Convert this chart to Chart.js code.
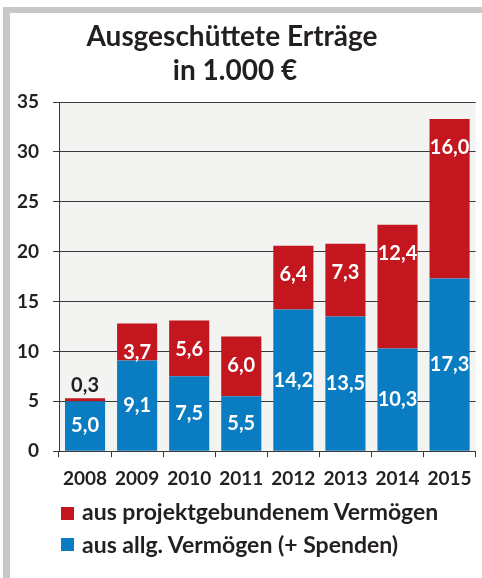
<!DOCTYPE html>
<html>
<head>
<meta charset="utf-8">
<script src="https://cdn.jsdelivr.net/npm/chart.js@4.4.1/dist/chart.umd.min.js"></script>
<style>
  body { margin: 0; background: #fff; }
  #wrap { position: relative; width: 482px; height: 578px; overflow: hidden; font-family: Lato, sans-serif; }
  #frameL { position: absolute; left: 3px; top: 7px; width: 7px; height: 571px; background: #c8c8c8; }
  #frameT { position: absolute; left: 3px; top: 7px; width: 479px; height: 6px; background: #c8c8c8; }
  canvas { position: absolute; left: 0; top: 0; }
  .box { position: absolute; left: 61px; width: 13px; height: 13px; }
  .txt { position: absolute; left: 82px; font: bold 23px Lato; line-height: 27px; color: #231f20; white-space: nowrap; }
</style>
</head>
<body>
<div id="wrap">
  <div id="frameL"></div>
  <div id="frameT"></div>
  <canvas id="barChart" width="482" height="578"></canvas>
  <div class="box" style="top:507px;background:#c3161f"></div>
  <div class="txt" style="top:498px">aus projektgebundenem Vermögen</div>
  <div class="box" style="top:538px;background:#0a7dc2"></div>
  <div class="txt" style="top:531px">aus allg. Vermögen (+ Spenden)</div>
</div>
<script>
var titleLines = ['Ausgeschüttete Erträge', 'in 1.000 €'];
var years = ['2008', '2009', '2010', '2011', '2012', '2013', '2014', '2015'];
var allgemein = [5.0, 9.1, 7.5, 5.5, 14.2, 13.5, 10.3, 17.3];
var projekt = [0.3, 3.7, 5.6, 6.0, 6.4, 7.3, 12.4, 16.0];
var seriesNames = ['aus allg. Vermögen (+ Spenden)', 'aus projektgebundenem Vermögen'];

var textColor = '#231f20';
var lineColor = '#3a3a3a';

// grey plot background
var plotBg = {
    id: 'plotBg',
    beforeDraw: function (chart) {
        var a = chart.chartArea, ctx = chart.ctx;
        ctx.save();
        ctx.fillStyle = '#f3f3f1';
        ctx.fillRect(a.left, a.top, a.right - a.left, a.bottom - a.top);
        ctx.restore();
    }
};

// two line title, a bit left of centre like the original
var twoLineTitle = {
    id: 'twoLineTitle',
    afterDraw: function (chart) {
        var ctx = chart.ctx;
        ctx.save();
        ctx.font = 'bold 28px Lato';
        ctx.fillStyle = textColor;
        ctx.textAlign = 'center';
        ctx.textBaseline = 'alphabetic';
        ctx.fillText(titleLines[0], 232, 46);
        ctx.fillText(titleLines[1], 235, 80);
        ctx.restore();
    }
};

// numbers on the bars
var valueLabels = {
    id: 'valueLabels',
    afterDatasetsDraw: function (chart) {
        var ctx = chart.ctx;
        ctx.save();
        ctx.font = 'bold 20px Lato';
        ctx.textAlign = 'center';
        ctx.textBaseline = 'middle';
        chart.data.datasets.forEach(function (ds, i) {
            chart.getDatasetMeta(i).data.forEach(function (bar, j) {
                var txt = ds.data[j].toFixed(1).replace('.', ',');
                var h = bar.base - bar.y;
                var y, color = '#fff';
                if (h < 20) {
                    y = bar.y - 13;
                    color = textColor;
                } else if (i === 1) {
                    y = bar.y + 29;
                } else {
                    y = (bar.y + bar.base) / 2;
                }
                ctx.fillStyle = color;
                ctx.fillText(txt, bar.x, y);
            });
        });
        ctx.restore();
    }
};

var canvas = document.getElementById('barChart');

var barChart = new Chart(canvas, {
    type: 'bar',
    data: {
        labels: years,
        datasets: [{
            label: seriesNames[0],
            data: allgemein,
            backgroundColor: '#0a7dc2'
        }, {
            label: seriesNames[1],
            data: projekt,
            backgroundColor: '#c3161f'
        }]
    },
    options: {
        responsive: false,
        animation: false,
        categoryPercentage: 1.0,
        barPercentage: 0.77,
        layout: {
            padding: { top: 102, right: 6, bottom: 78, left: 0 }
        },
        plugins: {
            legend: { display: false },
            title: { display: false },
            tooltip: { enabled: false }
        },
        scales: {
            x: {
                stacked: true,
                grid: {
                    offset: true,
                    drawOnChartArea: false,
                    color: lineColor,
                    tickLength: 6
                },
                border: { color: lineColor },
                ticks: {
                    color: textColor,
                    padding: 10,
                    font: { family: 'Lato', size: 19, weight: 'bold' }
                }
            },
            y: {
                stacked: true,
                min: 0,
                max: 35,
                afterFit: function (scale) { scale.width = 59; },
                grid: {
                    color: lineColor,
                    tickLength: 6
                },
                border: { color: lineColor },
                ticks: {
                    stepSize: 5,
                    color: textColor,
                    padding: 14,
                    font: { family: 'Lato', size: 19, weight: 'bold' }
                }
            }
        }
    },
    plugins: [plotBg, valueLabels, twoLineTitle]
});
</script>
</body>
</html>
